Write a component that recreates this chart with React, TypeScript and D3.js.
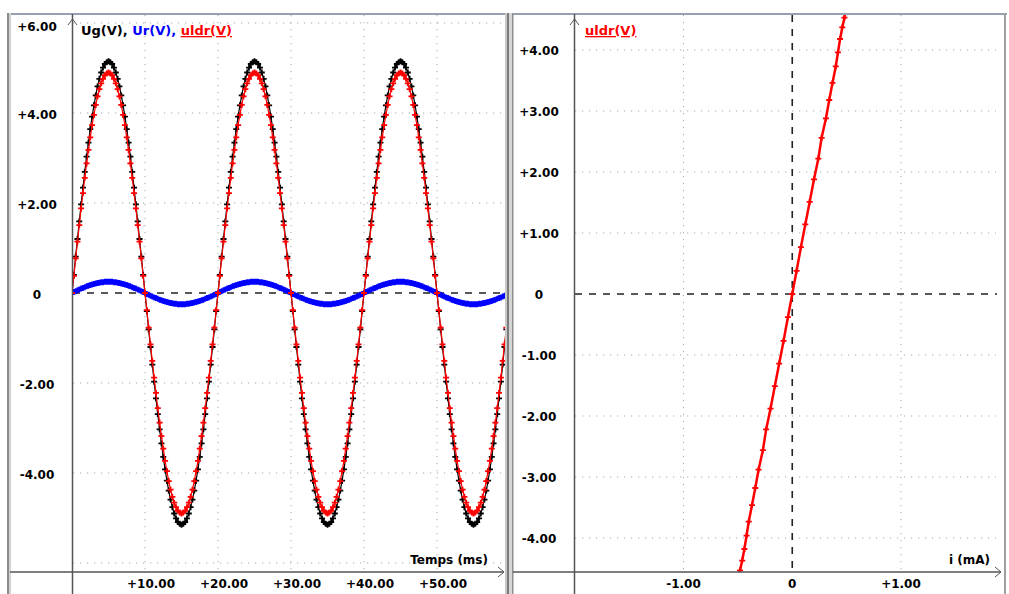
import React from "react";
import * as d3 from "d3";

// sampling step of the acquisition (ms)
const sampleStepMs = 0.25;

// generator voltage Ug (V), 3 periods
const ug = [
  0, 0.40, 0.81, 1.20, 1.59, 1.97, 2.34, 2.69, 3.03, 3.34, 3.64, 3.92, 4.17, 4.39, 4.59, 4.76, 4.90, 5.01, 5.09, 5.13,
  5.15, 5.13, 5.09, 5.01, 4.90, 4.76, 4.59, 4.39, 4.17, 3.92, 3.64, 3.34, 3.03, 2.69, 2.34, 1.97, 1.59, 1.20, 0.81, 0.40,
  0, -0.40, -0.81, -1.20, -1.59, -1.97, -2.34, -2.69, -3.03, -3.34, -3.64, -3.92, -4.17, -4.39, -4.59, -4.76, -4.90, -5.01, -5.09, -5.13,
  -5.15, -5.13, -5.09, -5.01, -4.90, -4.76, -4.59, -4.39, -4.17, -3.92, -3.64, -3.34, -3.03, -2.69, -2.34, -1.97, -1.59, -1.20, -0.81, -0.40,
  0, 0.40, 0.81, 1.20, 1.59, 1.97, 2.34, 2.69, 3.03, 3.34, 3.64, 3.92, 4.17, 4.39, 4.59, 4.76, 4.90, 5.01, 5.09, 5.13,
  5.15, 5.13, 5.09, 5.01, 4.90, 4.76, 4.59, 4.39, 4.17, 3.92, 3.64, 3.34, 3.03, 2.69, 2.34, 1.97, 1.59, 1.20, 0.81, 0.40,
  0, -0.40, -0.81, -1.20, -1.59, -1.97, -2.34, -2.69, -3.03, -3.34, -3.64, -3.92, -4.17, -4.39, -4.59, -4.76, -4.90, -5.01, -5.09, -5.13,
  -5.15, -5.13, -5.09, -5.01, -4.90, -4.76, -4.59, -4.39, -4.17, -3.92, -3.64, -3.34, -3.03, -2.69, -2.34, -1.97, -1.59, -1.20, -0.81, -0.40,
  0, 0.40, 0.81, 1.20, 1.59, 1.97, 2.34, 2.69, 3.03, 3.34, 3.64, 3.92, 4.17, 4.39, 4.59, 4.76, 4.90, 5.01, 5.09, 5.13,
  5.15, 5.13, 5.09, 5.01, 4.90, 4.76, 4.59, 4.39, 4.17, 3.92, 3.64, 3.34, 3.03, 2.69, 2.34, 1.97, 1.59, 1.20, 0.81, 0.40,
  0, -0.40, -0.81, -1.20, -1.59, -1.97, -2.34, -2.69, -3.03, -3.34, -3.64, -3.92, -4.17, -4.39, -4.59, -4.76, -4.90, -5.01, -5.09, -5.13,
  -5.15, -5.13, -5.09, -5.01, -4.90, -4.76, -4.59, -4.39, -4.17, -3.92, -3.64, -3.34, -3.03, -2.69, -2.34, -1.97, -1.59, -1.20, -0.81, -0.40,
];

// resistor voltage Ur (V)
const ur = [
  0, 0.02, 0.04, 0.06, 0.08, 0.10, 0.11, 0.13, 0.15, 0.16, 0.18, 0.19, 0.20, 0.21, 0.22, 0.23, 0.24, 0.24, 0.25, 0.25,
  0.25, 0.25, 0.25, 0.24, 0.24, 0.23, 0.22, 0.21, 0.20, 0.19, 0.18, 0.16, 0.15, 0.13, 0.11, 0.10, 0.08, 0.06, 0.04, 0.02,
  0, -0.02, -0.04, -0.06, -0.08, -0.10, -0.11, -0.13, -0.15, -0.16, -0.18, -0.19, -0.20, -0.21, -0.22, -0.23, -0.24, -0.24, -0.25, -0.25,
  -0.25, -0.25, -0.25, -0.24, -0.24, -0.23, -0.22, -0.21, -0.20, -0.19, -0.18, -0.16, -0.15, -0.13, -0.11, -0.10, -0.08, -0.06, -0.04, -0.02,
  0, 0.02, 0.04, 0.06, 0.08, 0.10, 0.11, 0.13, 0.15, 0.16, 0.18, 0.19, 0.20, 0.21, 0.22, 0.23, 0.24, 0.24, 0.25, 0.25,
  0.25, 0.25, 0.25, 0.24, 0.24, 0.23, 0.22, 0.21, 0.20, 0.19, 0.18, 0.16, 0.15, 0.13, 0.11, 0.10, 0.08, 0.06, 0.04, 0.02,
  0, -0.02, -0.04, -0.06, -0.08, -0.10, -0.11, -0.13, -0.15, -0.16, -0.18, -0.19, -0.20, -0.21, -0.22, -0.23, -0.24, -0.24, -0.25, -0.25,
  -0.25, -0.25, -0.25, -0.24, -0.24, -0.23, -0.22, -0.21, -0.20, -0.19, -0.18, -0.16, -0.15, -0.13, -0.11, -0.10, -0.08, -0.06, -0.04, -0.02,
  0, 0.02, 0.04, 0.06, 0.08, 0.10, 0.11, 0.13, 0.15, 0.16, 0.18, 0.19, 0.20, 0.21, 0.22, 0.23, 0.24, 0.24, 0.25, 0.25,
  0.25, 0.25, 0.25, 0.24, 0.24, 0.23, 0.22, 0.21, 0.20, 0.19, 0.18, 0.16, 0.15, 0.13, 0.11, 0.10, 0.08, 0.06, 0.04, 0.02,
  0, -0.02, -0.04, -0.06, -0.08, -0.10, -0.11, -0.13, -0.15, -0.16, -0.18, -0.19, -0.20, -0.21, -0.22, -0.23, -0.24, -0.24, -0.25, -0.25,
  -0.25, -0.25, -0.25, -0.24, -0.24, -0.23, -0.22, -0.21, -0.20, -0.19, -0.18, -0.16, -0.15, -0.13, -0.11, -0.10, -0.08, -0.06, -0.04, -0.02,
];

// LDR voltage uldr (V)
const uldr = [
  0, 0.38, 0.77, 1.14, 1.51, 1.88, 2.22, 2.56, 2.88, 3.18, 3.46, 3.73, 3.96, 4.18, 4.37, 4.53, 4.66, 4.76, 4.84, 4.88,
  4.90, 4.88, 4.84, 4.76, 4.66, 4.53, 4.37, 4.18, 3.96, 3.73, 3.46, 3.18, 2.88, 2.56, 2.22, 1.88, 1.51, 1.14, 0.77, 0.38,
  0, -0.38, -0.77, -1.14, -1.51, -1.88, -2.22, -2.56, -2.88, -3.18, -3.46, -3.73, -3.96, -4.18, -4.37, -4.53, -4.66, -4.76, -4.84, -4.88,
  -4.90, -4.88, -4.84, -4.76, -4.66, -4.53, -4.37, -4.18, -3.96, -3.73, -3.46, -3.18, -2.88, -2.56, -2.22, -1.88, -1.51, -1.14, -0.77, -0.38,
  0, 0.38, 0.77, 1.14, 1.51, 1.88, 2.22, 2.56, 2.88, 3.18, 3.46, 3.73, 3.96, 4.18, 4.37, 4.53, 4.66, 4.76, 4.84, 4.88,
  4.90, 4.88, 4.84, 4.76, 4.66, 4.53, 4.37, 4.18, 3.96, 3.73, 3.46, 3.18, 2.88, 2.56, 2.22, 1.88, 1.51, 1.14, 0.77, 0.38,
  0, -0.38, -0.77, -1.14, -1.51, -1.88, -2.22, -2.56, -2.88, -3.18, -3.46, -3.73, -3.96, -4.18, -4.37, -4.53, -4.66, -4.76, -4.84, -4.88,
  -4.90, -4.88, -4.84, -4.76, -4.66, -4.53, -4.37, -4.18, -3.96, -3.73, -3.46, -3.18, -2.88, -2.56, -2.22, -1.88, -1.51, -1.14, -0.77, -0.38,
  0, 0.38, 0.77, 1.14, 1.51, 1.88, 2.22, 2.56, 2.88, 3.18, 3.46, 3.73, 3.96, 4.18, 4.37, 4.53, 4.66, 4.76, 4.84, 4.88,
  4.90, 4.88, 4.84, 4.76, 4.66, 4.53, 4.37, 4.18, 3.96, 3.73, 3.46, 3.18, 2.88, 2.56, 2.22, 1.88, 1.51, 1.14, 0.77, 0.38,
  0, -0.38, -0.77, -1.14, -1.51, -1.88, -2.22, -2.56, -2.88, -3.18, -3.46, -3.73, -3.96, -4.18, -4.37, -4.53, -4.66, -4.76, -4.84, -4.88,
  -4.90, -4.88, -4.84, -4.76, -4.66, -4.53, -4.37, -4.18, -3.96, -3.73, -3.46, -3.18, -2.88, -2.56, -2.22, -1.88, -1.51, -1.14, -0.77, -0.38,
];

// current through the LDR (mA), first period
const ldrCurrent = [
  0, 0.04, 0.08, 0.12, 0.16, 0.20, 0.24, 0.27, 0.31, 0.34, 0.37, 0.40, 0.42, 0.44, 0.46, 0.48, 0.49, 0.51, 0.51, 0.52,
  0.52, 0.52, 0.51, 0.51, 0.49, 0.48, 0.46, 0.44, 0.42, 0.40, 0.37, 0.34, 0.31, 0.27, 0.24, 0.20, 0.16, 0.12, 0.08, 0.04,
  0, -0.04, -0.08, -0.12, -0.16, -0.20, -0.24, -0.27, -0.31, -0.34, -0.37, -0.40, -0.42, -0.44, -0.46, -0.48, -0.49, -0.51, -0.51, -0.52,
  -0.52, -0.52, -0.51, -0.51, -0.49, -0.48, -0.46, -0.44, -0.42, -0.40, -0.37, -0.34, -0.31, -0.27, -0.24, -0.20, -0.16, -0.12, -0.08, -0.04,
];

const timeTicks = [10, 20, 30, 40, 50];
const timeTickLabels = ["+10.00", "+20.00", "+30.00", "+40.00", "+50.00"];
const leftTicks = [6, 4, 2, 0, -2, -4];
const leftTickLabels = ["+6.00", "+4.00", "+2.00", "0", "-2.00", "-4.00"];
const leftGrid = [6, 4, 2, -2, -4, -6];
const rightTicks = [4, 3, 2, 1, 0, -1, -2, -3, -4];
const rightTickLabels = ["+4.00", "+3.00", "+2.00", "+1.00", "0", "-1.00", "-2.00", "-3.00", "-4.00"];
const currentTicks = [-1, 0, 1];
const currentTickLabels = ["-1.00", "0", "+1.00"];

const W = 1009;
const H = 594;
const FONT = "'DejaVu Sans', Verdana, sans-serif";
const GRID = "#a9a9a9";
const AXIS = "#555";

// left panel (time plot)
const xL = d3.scaleLinear().domain([0, 60]).range([72, 510]);
const yL = d3.scaleLinear().domain([-6, 6]).range([563, 23]);
const plotL = { x0: 73, x1: 505, y0: 15, y1: 572 };

// right panel (characteristic)
const xR = d3.scaleLinear().domain([-1, 1]).range([683.5, 901]);
const yR = d3.scaleLinear().domain([-4, 4]).range([538, 50]);
const plotR = { x0: 575, x1: 1002, y0: 15, y1: 572 };

function crossPath(pts: [number, number][], r: number) {
  return pts.map(([x, y]) => `M${x - r},${y}h${2 * r}M${x},${y - r}v${2 * r}`).join("");
}

function timeSeries(values: number[]) {
  const pts: [number, number][] = values.map((v, i) => [xL(i * sampleStepMs), yL(v)]);
  return { line: d3.line()(pts) || "", marks: crossPath(pts, 3) };
}

export default function App() {
  const sUg = timeSeries(ug);
  const sUr = timeSeries(ur);
  const sUldr = timeSeries(uldr);

  const ldrPts: [number, number][] = ldrCurrent.map((c, i) => [xR(c), yR(uldr[i])]);
  const ldrLine = d3.line()(ldrPts) || "";
  const ldrMarks = crossPath(ldrPts, 3);

  const label = { fontFamily: FONT, fontWeight: 700, fontSize: 12, fill: "#000" } as const;
  const legend = { ...label, fontSize: 13 };

  return (
    <svg width={W} height={H} style={{ position: "absolute", left: 0, top: 0, background: "#fff" }}>
      <defs>
        <clipPath id="clipL">
          <rect x={plotL.x0} y={plotL.y0} width={plotL.x1 - plotL.x0} height={plotL.y1 - plotL.y0} />
        </clipPath>
        <clipPath id="clipR">
          <rect x={plotR.x0} y={plotR.y0} width={plotR.x1 - plotR.x0} height={plotR.y1 - plotR.y0} />
        </clipPath>
      </defs>

      {/* frames */}
      <rect x={7} y={13} width={1000} height={2} fill="#97a0b0" />
      <rect x={7} y={13} width={2} height={H} fill="#8a8a8a" />
      <rect x={9} y={13} width={2} height={H} fill="#d2d2d2" />
      <rect x={505} y={13} width={2} height={H} fill="#c8c8c8" />
      <rect x={507} y={13} width={2} height={H} fill="#7c7c7c" />
      <rect x={509} y={13} width={3} height={H} fill="#d6d6d6" />
      <rect x={512} y={13} width={1.5} height={H} fill="#8f8f8f" />
      <rect x={1004} y={13} width={2} height={H} fill="#a0a0a0" />

      {/* ---------- left panel ---------- */}
      <g>
        {leftGrid.map((v) => (
          <line key={v} x1={plotL.x0} x2={plotL.x1} y1={yL(v)} y2={yL(v)} stroke={GRID} strokeDasharray="1.2 5.8" />
        ))}
        {timeTicks.map((t) => (
          <line key={t} x1={xL(t)} x2={xL(t)} y1={plotL.y0} y2={plotL.y1} stroke={GRID} strokeDasharray="1.2 5.8" />
        ))}
        <line x1={plotL.x0} x2={plotL.x1} y1={yL(0)} y2={yL(0)} stroke="#222" strokeWidth={1.6} strokeDasharray="7 7" />

        <g clipPath="url(#clipL)">
          <path d={sUg.line} fill="none" stroke="#000" strokeWidth={1.2} />
          <path d={sUg.marks} fill="none" stroke="#000" strokeWidth={1.8} />
          <path d={sUr.line} fill="none" stroke="#0000ff" strokeWidth={3} />
          <path d={sUr.marks} fill="none" stroke="#0000ff" strokeWidth={1.8} />
          <path d={sUldr.line} fill="none" stroke="#ff0000" strokeWidth={1.2} />
          <path d={sUldr.marks} fill="none" stroke="#ff0000" strokeWidth={1.8} />
        </g>

        {/* axes */}
        <line x1={72.5} x2={72.5} y1={14} y2={H} stroke={AXIS} strokeWidth={1.5} />
        <polyline points="68,25 72.5,19 77,25" fill="none" stroke={AXIS} strokeWidth={1} />
        <line x1={10} x2={504} y1={572} y2={572} stroke={AXIS} strokeWidth={1.5} />
        <polyline points="498,567 504,572 498,577" fill="none" stroke={AXIS} strokeWidth={1} />

        {leftTicks.map((v, i) => (
          <text key={v} x={37} y={Math.max(yL(v) + 6, 31)} textAnchor="middle" {...label}>
            {leftTickLabels[i]}
          </text>
        ))}
        {timeTicks.map((t, i) => (
          <text key={t} x={xL(t) + 6} y={588} textAnchor="middle" {...label}>
            {timeTickLabels[i]}
          </text>
        ))}
        <text x={488} y={564} textAnchor="end" {...label}>Temps (ms)</text>

        <text x={81} y={35} {...legend}>
          <tspan fill="#000">Ug(V), </tspan>
          <tspan fill="#0000ff">Ur(V), </tspan>
          <tspan fill="#ff0000" style={{ textDecoration: "underline" }}>uldr(V)</tspan>
        </text>
      </g>

      {/* ---------- right panel ---------- */}
      <g>
        {rightTicks.filter((v) => v !== 0).map((v) => (
          <line key={v} x1={plotR.x0} x2={plotR.x1 - 6} y1={yR(v)} y2={yR(v)} stroke={GRID} strokeDasharray="1.2 5.8" />
        ))}
        {currentTicks.filter((v) => v !== 0).map((v) => (
          <line key={v} x1={xR(v)} x2={xR(v)} y1={plotR.y0} y2={plotR.y1} stroke={GRID} strokeDasharray="1.2 5.8" />
        ))}
        <line x1={plotR.x0} x2={997} y1={yR(0)} y2={yR(0)} stroke="#222" strokeWidth={1.6} strokeDasharray="7 7" />
        <line x1={xR(0)} x2={xR(0)} y1={plotR.y0} y2={plotR.y1} stroke="#222" strokeWidth={1.6} strokeDasharray="7 7" />

        <g clipPath="url(#clipR)">
          <path d={ldrLine} fill="none" stroke="#ff0000" strokeWidth={2.5} />
          <path d={ldrMarks} fill="none" stroke="#ff0000" strokeWidth={1.8} />
        </g>

        <line x1={574.5} x2={574.5} y1={14} y2={H} stroke={AXIS} strokeWidth={1.5} />
        <polyline points="570,25 574.5,19 579,25" fill="none" stroke={AXIS} strokeWidth={1} />
        <line x1={513} x2={1001} y1={572} y2={572} stroke={AXIS} strokeWidth={1.5} />
        <polyline points="995,567 1001,572 995,577" fill="none" stroke={AXIS} strokeWidth={1} />

        {rightTicks.map((v, i) => (
          <text key={v} x={539} y={yR(v) + 5} textAnchor="middle" {...label}>
            {rightTickLabels[i]}
          </text>
        ))}
        {currentTicks.map((v, i) => (
          <text key={v} x={xR(v)} y={588} textAnchor="middle" {...label}>
            {currentTickLabels[i]}
          </text>
        ))}
        <text x={990} y={564} textAnchor="end" {...label}>i (mA)</text>

        <text x={585} y={35} {...legend} fill="#ff0000" style={{ textDecoration: "underline" }}>
          uldr(V)
        </text>
      </g>
    </svg>
  );
}
